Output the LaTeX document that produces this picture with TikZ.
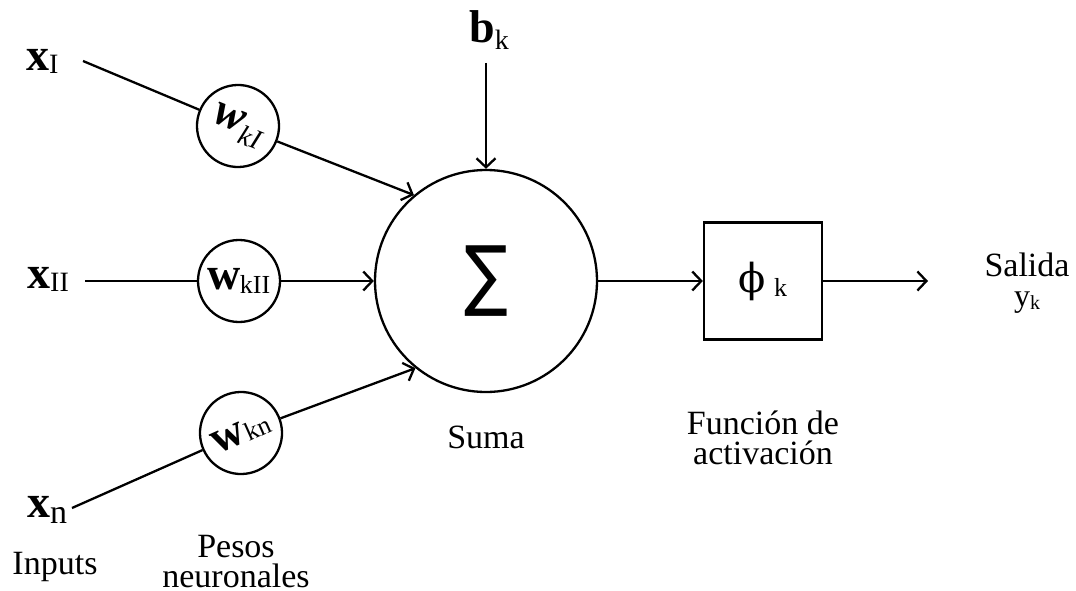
\documentclass[tikz,border=0pt]{standalone}
\usepackage{fontspec}
\usepackage{graphicx}
\setmainfont{Liberation Serif}
\newfontfamily\dvsans{DejaVu Sans}
\newfontfamily\dvserif{DejaVu Serif}
\usetikzlibrary{arrows.meta}
\newcommand{\lowsub}[3]{\raisebox{#1}{\fontsize{#2}{#2}\selectfont #3}}
\tikzset{
  conn/.style={line width=2.3pt},
  arr/.style={line width=2.3pt, -{Straight Barb[length=9pt,width=19pt,line width=2.3pt]}},
  wcirc/.style={circle, draw, line width=2.3pt, minimum size=82pt, inner sep=0pt},
  lbl/.style={font=\fontsize{34}{30}\selectfont, align=center, inner sep=0pt},
  var/.style={font=\fontsize{46}{46}\selectfont\bfseries, inner sep=0pt, anchor=base west},
  wtxt/.style={font=\fontsize{46}{46}\selectfont}
}
\begin{document}
\begin{tikzpicture}[x=1pt,y=-1pt]
\useasboundingbox (0,0) rectangle (1076,591);
% main nodes
\node[circle, draw, line width=2.3pt, minimum size=222pt, inner sep=0pt] (S) at (486,281)
  {\scalebox{1.05}[1.25]{\dvsans\fontsize{62}{62}\selectfont ∑}};
\node[wcirc, rotate=-22, wtxt] (w1) at (238,126)
  {\bfseries\itshape w\kern1pt\lowsub{-10pt}{28}{\mdseries kI}};
\node[wcirc, wtxt] (w2) at (239,281)
  {\bfseries w\kern-1pt\lowsub{-4pt}{26}{\mdseries kII}};
\node[wcirc, rotate=24, wtxt] (w3) at (241,433)
  {\bfseries w\kern1pt\lowsub{-1pt}{26}{\mdseries kn}};
\node[draw, line width=2.3pt, minimum width=118pt, minimum height=117pt, inner sep=0pt] (box) at (763,281)
  {{\dvserif\fontsize{40}{40}\selectfont ϕ}\hspace{8pt}\lowsub{-4pt}{26}{k}};
% variables
\node[var] (x1) at (26,71) {x\lowsub{-3pt}{28}{\mdseries I}};
\node[var] (x2) at (27,288) {x\lowsub{-3pt}{28}{\mdseries II}};
\node[var] (xn) at (27,517) {x\lowsub{-6pt}{34}{\mdseries n}};
\node[var] (b) at (469,43) {b\lowsub{-7pt}{28}{\mdseries k}};
% coordinates
\coordinate (c1) at (83,61);
\coordinate (c2) at (85,281);
\coordinate (c3) at (72,508);
\coordinate (cb) at (486,63);
\coordinate (cout) at (928,281);
% connectors
\draw[conn] (c1) -- (w1);
\draw[arr] (w1) -- (S.130);
\draw[conn] (c2) -- (w2);
\draw[arr] (w2) -- (S.west);
\draw[conn] (c3) -- (w3);
\draw[arr] (w3) -- (S.231);
\draw[arr] (cb) -- (S.north);
\draw[arr] (S.east) -- (box.west);
\draw[arr] (box.east) -- (cout);
% labels
\node[lbl] (suma) at (486,437) {Suma};
\node[lbl] (fun) at (763,438) {Función de\\activación};
\node[lbl] (sal) at (1027,283) {Salida\\{\fontsize{32}{32}\selectfont y\lowsub{-3pt}{20}{k}}};
\node[lbl] (inp) at (55,567) {Inputs};
\node[lbl] (pes) at (236,562) {Pesos\\neuronales};
\end{tikzpicture}
\end{document}
